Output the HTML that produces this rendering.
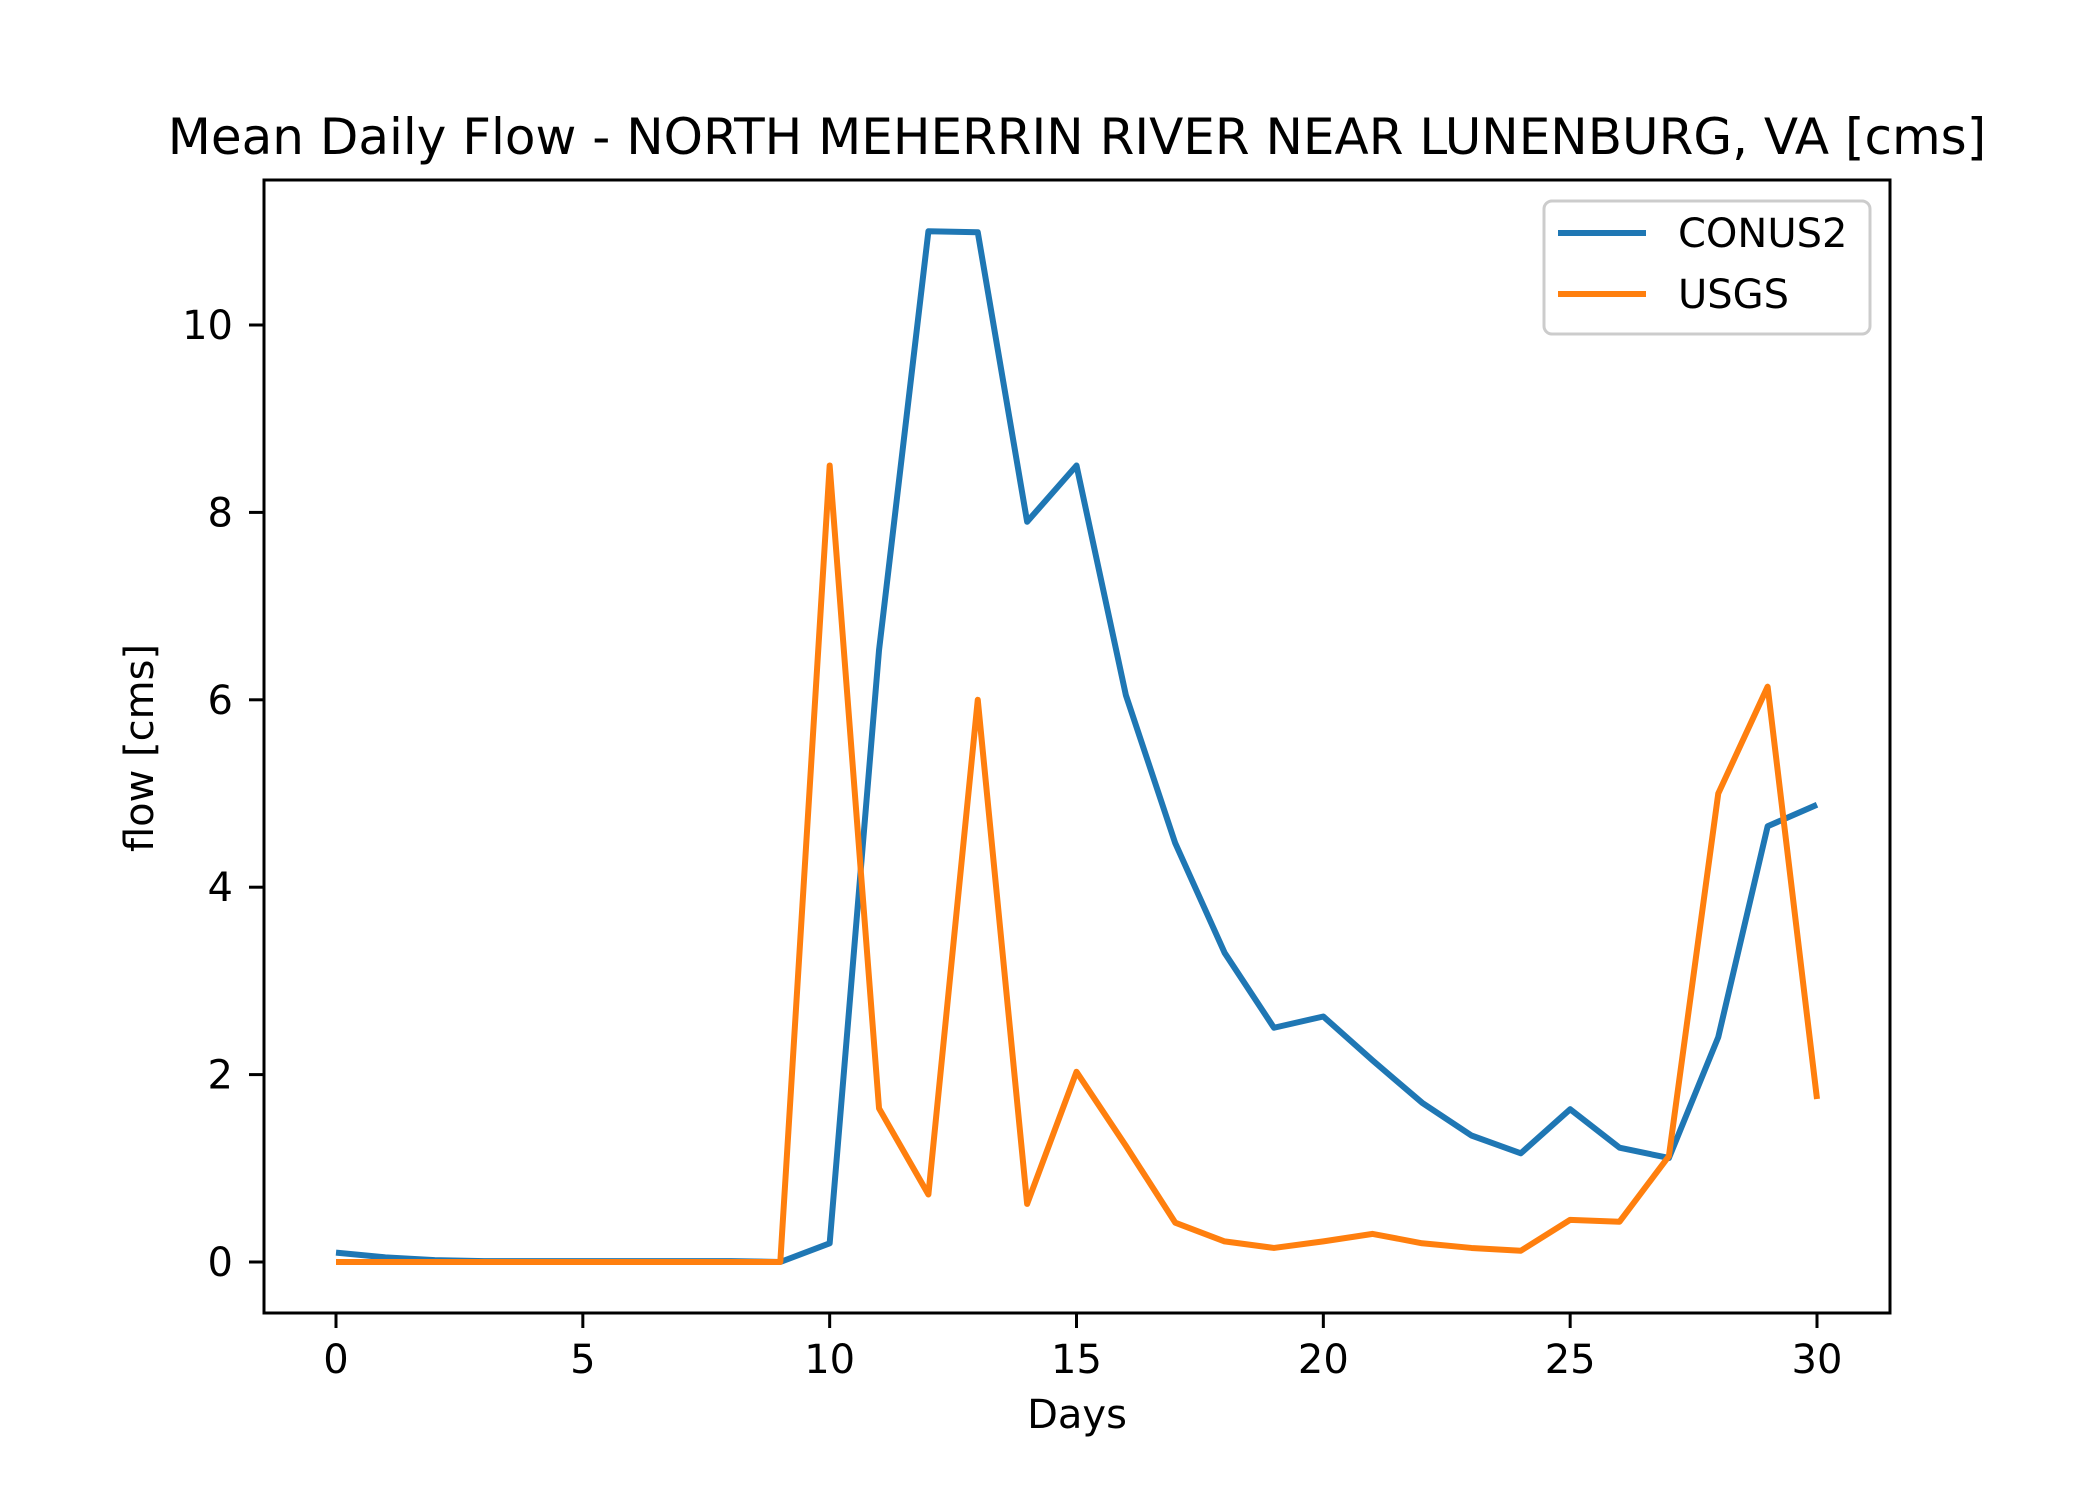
<!DOCTYPE html>
<html><head><meta charset="utf-8"><style>
html,body{margin:0;padding:0;background:#fff;}
svg{display:block;font-family:"DejaVu Sans","Liberation Sans",sans-serif;}
</style></head><body>
<svg id="chart" width="2100" height="1500" viewBox="0 0 2100 1500" xmlns="http://www.w3.org/2000/svg">
<rect width="2100" height="1500" fill="#fff"/>
<text x="1077" y="154" font-size="50" text-anchor="middle">Mean Daily Flow - NORTH MEHERRIN RIVER NEAR LUNENBURG, VA [cms]</text>
<g id="ticks"></g>
<g id="series"></g>
<rect x="264" y="180" width="1626" height="1133" fill="none" stroke="#000" stroke-width="3"/>
<text x="1077" y="1428" font-size="40" text-anchor="middle">Days</text>
<text x="0" y="0" font-size="40" text-anchor="middle" transform="translate(153,748) rotate(-90)">flow [cms]</text>
<g>
<rect x="1544" y="201" width="326" height="133" rx="8" fill="#fff" fill-opacity="0.8" stroke="#ccc" stroke-width="3"/>
<line x1="1558" y1="233" x2="1646" y2="233" stroke="#1f77b4" stroke-width="6"/>
<text x="1678" y="247" font-size="40">CONUS2</text>
<line x1="1558" y1="294" x2="1646" y2="294" stroke="#ff7f0e" stroke-width="6"/>
<text x="1678" y="308" font-size="40">USGS</text>
</g>
</svg>
<script>
const days = [0,1,2,3,4,5,6,7,8,9,10,11,12,13,14,15,16,17,18,19,20,21,22,23,24,25,26,27,28,29,30];
const conus2 = [0.1,0.05,0.02,0.01,0.01,0.01,0.01,0.01,0.01,0,0.2,6.53,11.0,10.99,7.9,8.5,6.05,4.47,3.3,2.5,2.62,2.15,1.7,1.35,1.16,1.63,1.22,1.11,2.4,4.65,4.88];
const usgs = [0,0,0,0,0,0,0,0,0,0,8.5,1.64,0.72,6.0,0.62,2.03,1.24,0.42,0.22,0.15,0.22,0.3,0.2,0.15,0.12,0.45,0.43,1.13,5.0,6.14,1.74];
const xTicks = [0,5,10,15,20,25,30];
const yTicks = [0,2,4,6,8,10];
const NS="http://www.w3.org/2000/svg";
const xs = v => 336 + (1817-336)*v/30;
const ys = v => 1262 - (1262-325)*v/10;
const tg=document.getElementById('ticks'), sg=document.getElementById('series');
function mk(t,a,p){const e=document.createElementNS(NS,t);for(const k in a)e.setAttribute(k,a[k]);p.appendChild(e);return e;}
xTicks.forEach(t=>{
  const l=mk('line',{x1:xs(t),x2:xs(t),y1:1313,y2:1328,stroke:'#000','stroke-width':3},tg);
  
  
  const tx=mk('text',{x:xs(t),y:1373,'font-size':40,'text-anchor':'middle'},tg);tx.textContent=t;
  
  
});
yTicks.forEach(t=>{
  const l=mk('line',{x1:249,x2:264,y1:ys(t),y2:ys(t),stroke:'#000','stroke-width':3},tg);
  
  
  const tx=mk('text',{x:233,y:ys(t)+14,'font-size':40,'text-anchor':'end'},tg);tx.textContent=t;
  
  
});
function line(vals,color,name){
  const p=mk('polyline',{points:vals.map((v,i)=>xs(days[i])+','+ys(v)).join(' '),fill:'none',stroke:color,'stroke-width':6,'stroke-linejoin':'round'},sg);
  
  
}
line(conus2,'#1f77b4','conus2-line');
line(usgs,'#ff7f0e','usgs-line');
</script>
</body></html>
